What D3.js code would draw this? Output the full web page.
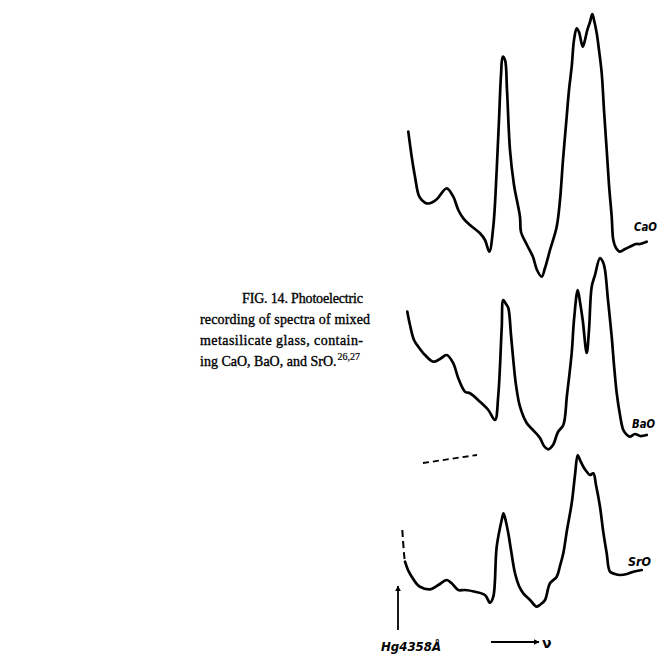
<!DOCTYPE html>
<html>
<head>
<meta charset="utf-8">
<script src="https://cdn.jsdelivr.net/npm/d3@7"></script>
<style>
  html, body { margin: 0; padding: 0; background: #fff; }
  svg { display: block; }
</style>
</head>
<body>
<svg id="chart" width="661" height="657"></svg>
<script>
// ---- data (x: relative wavenumber units, y: relative photocurrent) ----
const seriesNames = ["CaO", "BaO", "SrO"];

const caoX = [8.3,11.7,15,19.3,25,30,36.7,46.7,53.3,58.3,63.3,70,80,85,89.3,93.3,96.7,99,101,102.7,105,107,110,114,120,121,127,133,137,141.7,145,150,156.7,160,163,166.7,169,171.7,174,176.7,179,182.7,185,187.3,190,192.3,194,196.7,199,201.7,204,206.7,209,211.7,213.3,216,220,225,230,236,240,246.7];
const caoY = [158.3,133.3,113.3,93.3,87.3,86.7,90.7,101.7,93.3,80,71.7,65,56.7,50,38.3,63.3,120,170,215,233.3,230,200,140,105,73,58,45,33,20,13.3,22,40,63.3,90,130,173.3,200,223.3,250,261.7,258,243.3,250,260,268,276,270,257,240,217,180,140,105,73.3,50,42,38.3,41,43.3,46,46,48.3];

const baoX = [7.3,10,14,18.3,25,33.3,40,46.7,53.3,58.3,65,70,80,88.3,95,98.3,101.7,103.3,106,108.3,111,113.3,116,120,126.7,133,140,144,148.3,153,158,163.3,167,171.7,174,177.7,180,182.7,186.7,189,191.7,195,200,203,205,208,211.7,214,216.7,220,223.3,227,230,235,240,246.7];
const baoY = [148.3,135,120,113.3,105,98.3,101,105,96.7,81.7,68.3,66.7,58.3,50,40,65,131.7,160,156,152,125,100,75,53.3,37,30,22,14,10.7,15,28,35,65,107,140,170,158,140,107,130,173.3,185,202,198,190,160,123.3,95,67,45,30,25,23.3,26,24,25];

const sroLeadX = [2.3,4.3,5];
const sroLeadY = [90,63.3,58.3];
const sroX = [5,8,11.7,16,20,30,38.3,46.7,51.7,58.3,65,75,85,90,93.3,96.7,101.7,103.5,106,108.3,111,115,119,123.3,130,136.7,141,145,150,156.7,160,163.3,167,171.7,175,177.7,180,183.3,187,190,193.3,196,200,203,206.7,210,215,220,227,233.3,241.7];
const sroY = [58.3,50,43.3,37,33.3,30.7,35,40,36.7,30,30,28.3,25,17.3,23.3,73.3,100,106.7,98,86.7,70,46.7,34,26.7,20,13.3,16,20,36.7,43.3,54,66.7,90,116.7,145,165,160,153.3,148,145,146.7,135,113.3,90,66.7,48.3,46,45,46,48.3,50];

const captionLines = [
  "FIG. 14. Photoelectric",
  "recording of spectra of mixed",
  "metasilicate glass, contain-",
  "ing CaO, BaO, and SrO."
];
const captionSup = "26,27";
const markerLabel = "Hg4358Å";
const axisLabel = "ν";

// ---- layout ----
const svg = d3.select("#chart");
const x = d3.scaleLinear().domain([0, 260]).range([400, 660]);
const panelBase = [290, 460, 620];
const yScales = panelBase.map(b => d3.scaleLinear().domain([0, 280]).range([b, b - 280]));

const line = (ys) => d3.line().x(d => x(d[0])).y(d => ys(d[1])).curve(d3.curveCatmullRom.alpha(0.5));

const traces = [
  d3.zip(caoX, caoY),
  d3.zip(baoX, baoY),
  d3.zip(sroX, sroY)
];

traces.forEach((pts, i) => {
  svg.append("path")
    .attr("d", line(yScales[i])(pts))
    .attr("fill", "none")
    .attr("stroke", "#000")
    .attr("stroke-width", 2.7)
    .attr("stroke-linejoin", "round")
    .attr("stroke-linecap", "round");
});

// dashed lead-in of SrO trace
svg.append("path")
  .attr("d", line(yScales[2])(d3.zip(sroLeadX, sroLeadY)))
  .attr("fill", "none").attr("stroke", "#000").attr("stroke-width", 2)
  .attr("stroke-dasharray", "7,4");

// dashed reference segment between BaO and SrO
svg.append("line")
  .attr("x1", x(23)).attr("y1", yScales[1](-3))
  .attr("x2", x(77)).attr("y2", yScales[1](5))
  .attr("stroke", "#000").attr("stroke-width", 1.8)
  .attr("stroke-dasharray", "6,4");

// series labels
const labelPos = [[234, 59], [232, 32], [228, 54]];
seriesNames.forEach((n, i) => {
  svg.append("text")
    .attr("x", x(labelPos[i][0])).attr("y", yScales[i](labelPos[i][1]))
    .attr("font-family", "'DejaVu Sans Condensed', 'DejaVu Sans', sans-serif")
    .attr("font-style", "italic").attr("font-weight", "bold")
    .attr("font-size", 13)
    .attr("textLength", 23).attr("lengthAdjust", "spacingAndGlyphs")
    .text(n);
});

// Hg marker arrow
const defs = svg.append("defs");
defs.append("marker").attr("id", "ah").attr("viewBox", "0 0 10 10")
  .attr("refX", 9).attr("refY", 5).attr("markerWidth", 6).attr("markerHeight", 8)
  .attr("markerUnits", "userSpaceOnUse").attr("orient", "auto")
  .append("path").attr("d", "M0,0 L10,5 L0,10 z").attr("fill", "#000");

svg.append("line")
  .attr("x1", x(-2)).attr("y1", yScales[2](-10))
  .attr("x2", x(-2)).attr("y2", yScales[2](34))
  .attr("stroke", "#000").attr("stroke-width", 1.8).attr("marker-end", "url(#ah)");

svg.append("text")
  .attr("x", x(-19)).attr("y", yScales[2](-31))
  .attr("font-family", "'DejaVu Sans Condensed', 'DejaVu Sans', sans-serif")
  .attr("font-style", "italic").attr("font-weight", "bold").attr("font-size", 12)
  .attr("textLength", 60).attr("lengthAdjust", "spacingAndGlyphs")
  .text(markerLabel);

// nu arrow
svg.append("line")
  .attr("x1", x(91)).attr("y1", yScales[2](-22))
  .attr("x2", x(139)).attr("y2", yScales[2](-22))
  .attr("stroke", "#000").attr("stroke-width", 1.8).attr("marker-end", "url(#ah)");
svg.append("text")
  .attr("x", x(142)).attr("y", yScales[2](-28))
  .attr("font-family", "'DejaVu Sans', sans-serif")
  .attr("font-weight", "bold").attr("font-size", 14)
  .text(axisLabel);

// caption (Times-like serif, natural widths, justified by spacing)
const capX = [242, 200, 200, 200];
const capW = [121, 170, 163, null];
captionLines.forEach((t, i) => {
  const tx = svg.append("text")
    .attr("x", capX[i]).attr("y", 303 + i * 21)
    .attr("font-family", "'Liberation Serif', 'Times New Roman', serif")
    .attr("font-size", 14)
    .attr("fill", "#000").attr("stroke", "#000").attr("stroke-width", 0.35);
  if (capW[i]) tx.attr("textLength", capW[i]).attr("lengthAdjust", "spacing");
  tx.append("tspan").text(t);
  if (i === captionLines.length - 1) {
    tx.append("tspan")
      .attr("dx", 1).attr("dy", -6)
      .attr("font-size", 10).attr("stroke-width", 0.2)
      .text(captionSup);
  }
});
</script>
</body>
</html>
